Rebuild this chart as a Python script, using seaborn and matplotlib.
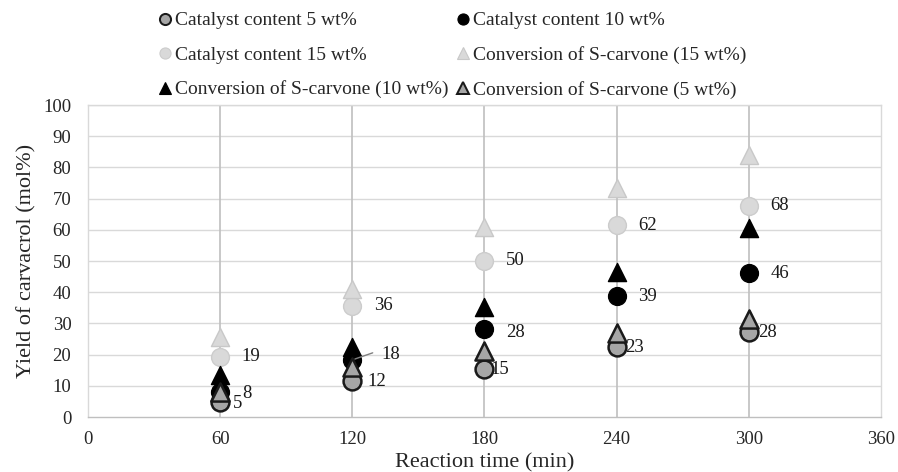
import pandas as pd
import matplotlib
matplotlib.use("Agg")
import matplotlib.pyplot as plt
import seaborn as sns
from matplotlib.lines import Line2D

# datos
tiempo = [60, 120, 180, 240, 300]
yield_5 = [4.9, 11.6, 15.3, 22.5, 27.3]
yield_10 = [8.1, 18.3, 28.1, 38.9, 46.1]
yield_15 = [19.3, 35.6, 50.1, 61.5, 67.7]
conv_15 = [25.7, 41.0, 61.0, 73.4, 84.0]
conv_10 = [13.4, 22.5, 35.4, 46.6, 60.6]
conv_5 = [8.1, 16.1, 21.2, 26.9, 31.4]

etiq_5 = ["5", "12", "15", "23", "28"]
etiq_10 = ["8", "18", "28", "39", "46"]
etiq_15 = ["19", "36", "50", "62", "68"]

nombres = ["Catalyst content 5 wt%", "Catalyst content 10 wt%", "Catalyst content 15 wt%",
           "Conversion of S-carvone (15 wt%)", "Conversion of S-carvone (10 wt%)",
           "Conversion of S-carvone (5 wt%)"]

sns.set_theme(style="white")
plt.rcParams['font.family'] = ['Liberation Serif', 'DejaVu Serif']

fig = plt.figure(figsize=(8.98, 4.72), dpi=100)
ax = fig.add_axes([0.098, 0.1165, 0.883, 0.661])

#lineas verticales en cada tiempo
ax.vlines(tiempo, 0, 100, color="#bfbfbf", lw=1.2, zorder=1)
for yv in range(10, 101, 10):
    ax.axhline(yv, color="#d9d9d9", lw=1, zorder=0)

#estilos de cada serie: (marcador, relleno, borde, grosor)
estilos = [("o", "#a6a6a6", "#1a1a1a", 1.8),
           ("o", "#000000", "#000000", 1.0),
           ("o", "#d9d9d9", "#cccccc", 1.0),
           ("^", "#d9d9d9", "#c8c8c8", 1.0),
           ("^", "#000000", "#000000", 1.0),
           ("^", "#a6a6a6", "#1a1a1a", 1.8)]
series = [yield_5, yield_10, yield_15, conv_15, conv_10, conv_5]

handles = []
for i, (nombre, valores) in enumerate(zip(nombres, series)):
    m, fc, ec, lw = estilos[i]
    df = pd.DataFrame({"t": tiempo, "y": valores})
    sns.scatterplot(data=df, x="t", y="y", ax=ax, marker=m, s=165 if m == "o" else 170,
                    color=fc, edgecolor=ec, linewidth=lw, zorder=3 + i, legend=False)
    handles.append(Line2D([], [], ls="none", marker=m, markersize=8,
                          markerfacecolor=fc, markeredgecolor=ec, markeredgewidth=lw * 0.8,
                          label=nombre))

#etiquetas de datos
desp_15 = [(31, 0)] * 5
desp_10 = [(27, -2), (38, 5), (31, -3), (31, -1), (31, 0)]
desp_5 = [(17, -2), (24, -1), (15, 0), (18, -1), (19, -1)]
for etiq, vals, desp in [(etiq_15, yield_15, desp_15), (etiq_10, yield_10, desp_10),
                         (etiq_5, yield_5, desp_5)]:
    for t, v, e, d in zip(tiempo, vals, etiq, desp):
        ax.annotate(e, (t, v), xytext=d, textcoords="offset pixels", ha="center",
                    va="center", fontsize=13.5, color="#1a1a1a", zorder=20)
#linea guia de la etiqueta 18
ax.annotate("", (120, 18.3), xytext=(23, 8), textcoords="offset pixels",
            arrowprops=dict(arrowstyle="-", color="#808080", lw=1), zorder=19)

ax.set_xlim(0, 360)
ax.set_ylim(0, 100)
ax.set_xticks(range(0, 361, 60))
ax.set_yticks(range(0, 101, 10))
ax.tick_params(axis="x", length=0, pad=10, labelsize=13.5)
ax.tick_params(axis="y", length=0, pad=12, labelsize=13.5)
ax.set_xlabel("Reaction time (min)", fontsize=16, labelpad=3.6)
ax.set_ylabel("Yield of carvacrol (mol%)", fontsize=16, labelpad=5)
for lado in ["top", "right", "left"]:
    ax.spines[lado].set_color("#d9d9d9")
ax.spines["bottom"].set_color("#bfbfbf")
for sp in ax.spines.values():
    sp.set_linewidth(1)

orden = [handles[0], handles[2], handles[4], handles[1], handles[3], handles[5]]
fig.legend(handles=orden, loc="upper left", bbox_to_anchor=(0.157, 1.012), ncol=2,
           frameon=False, fontsize=14, handletextpad=0.15, columnspacing=0.4,
           labelspacing=0.86, handlelength=0.7)

fig.savefig("out.png", dpi=100)
